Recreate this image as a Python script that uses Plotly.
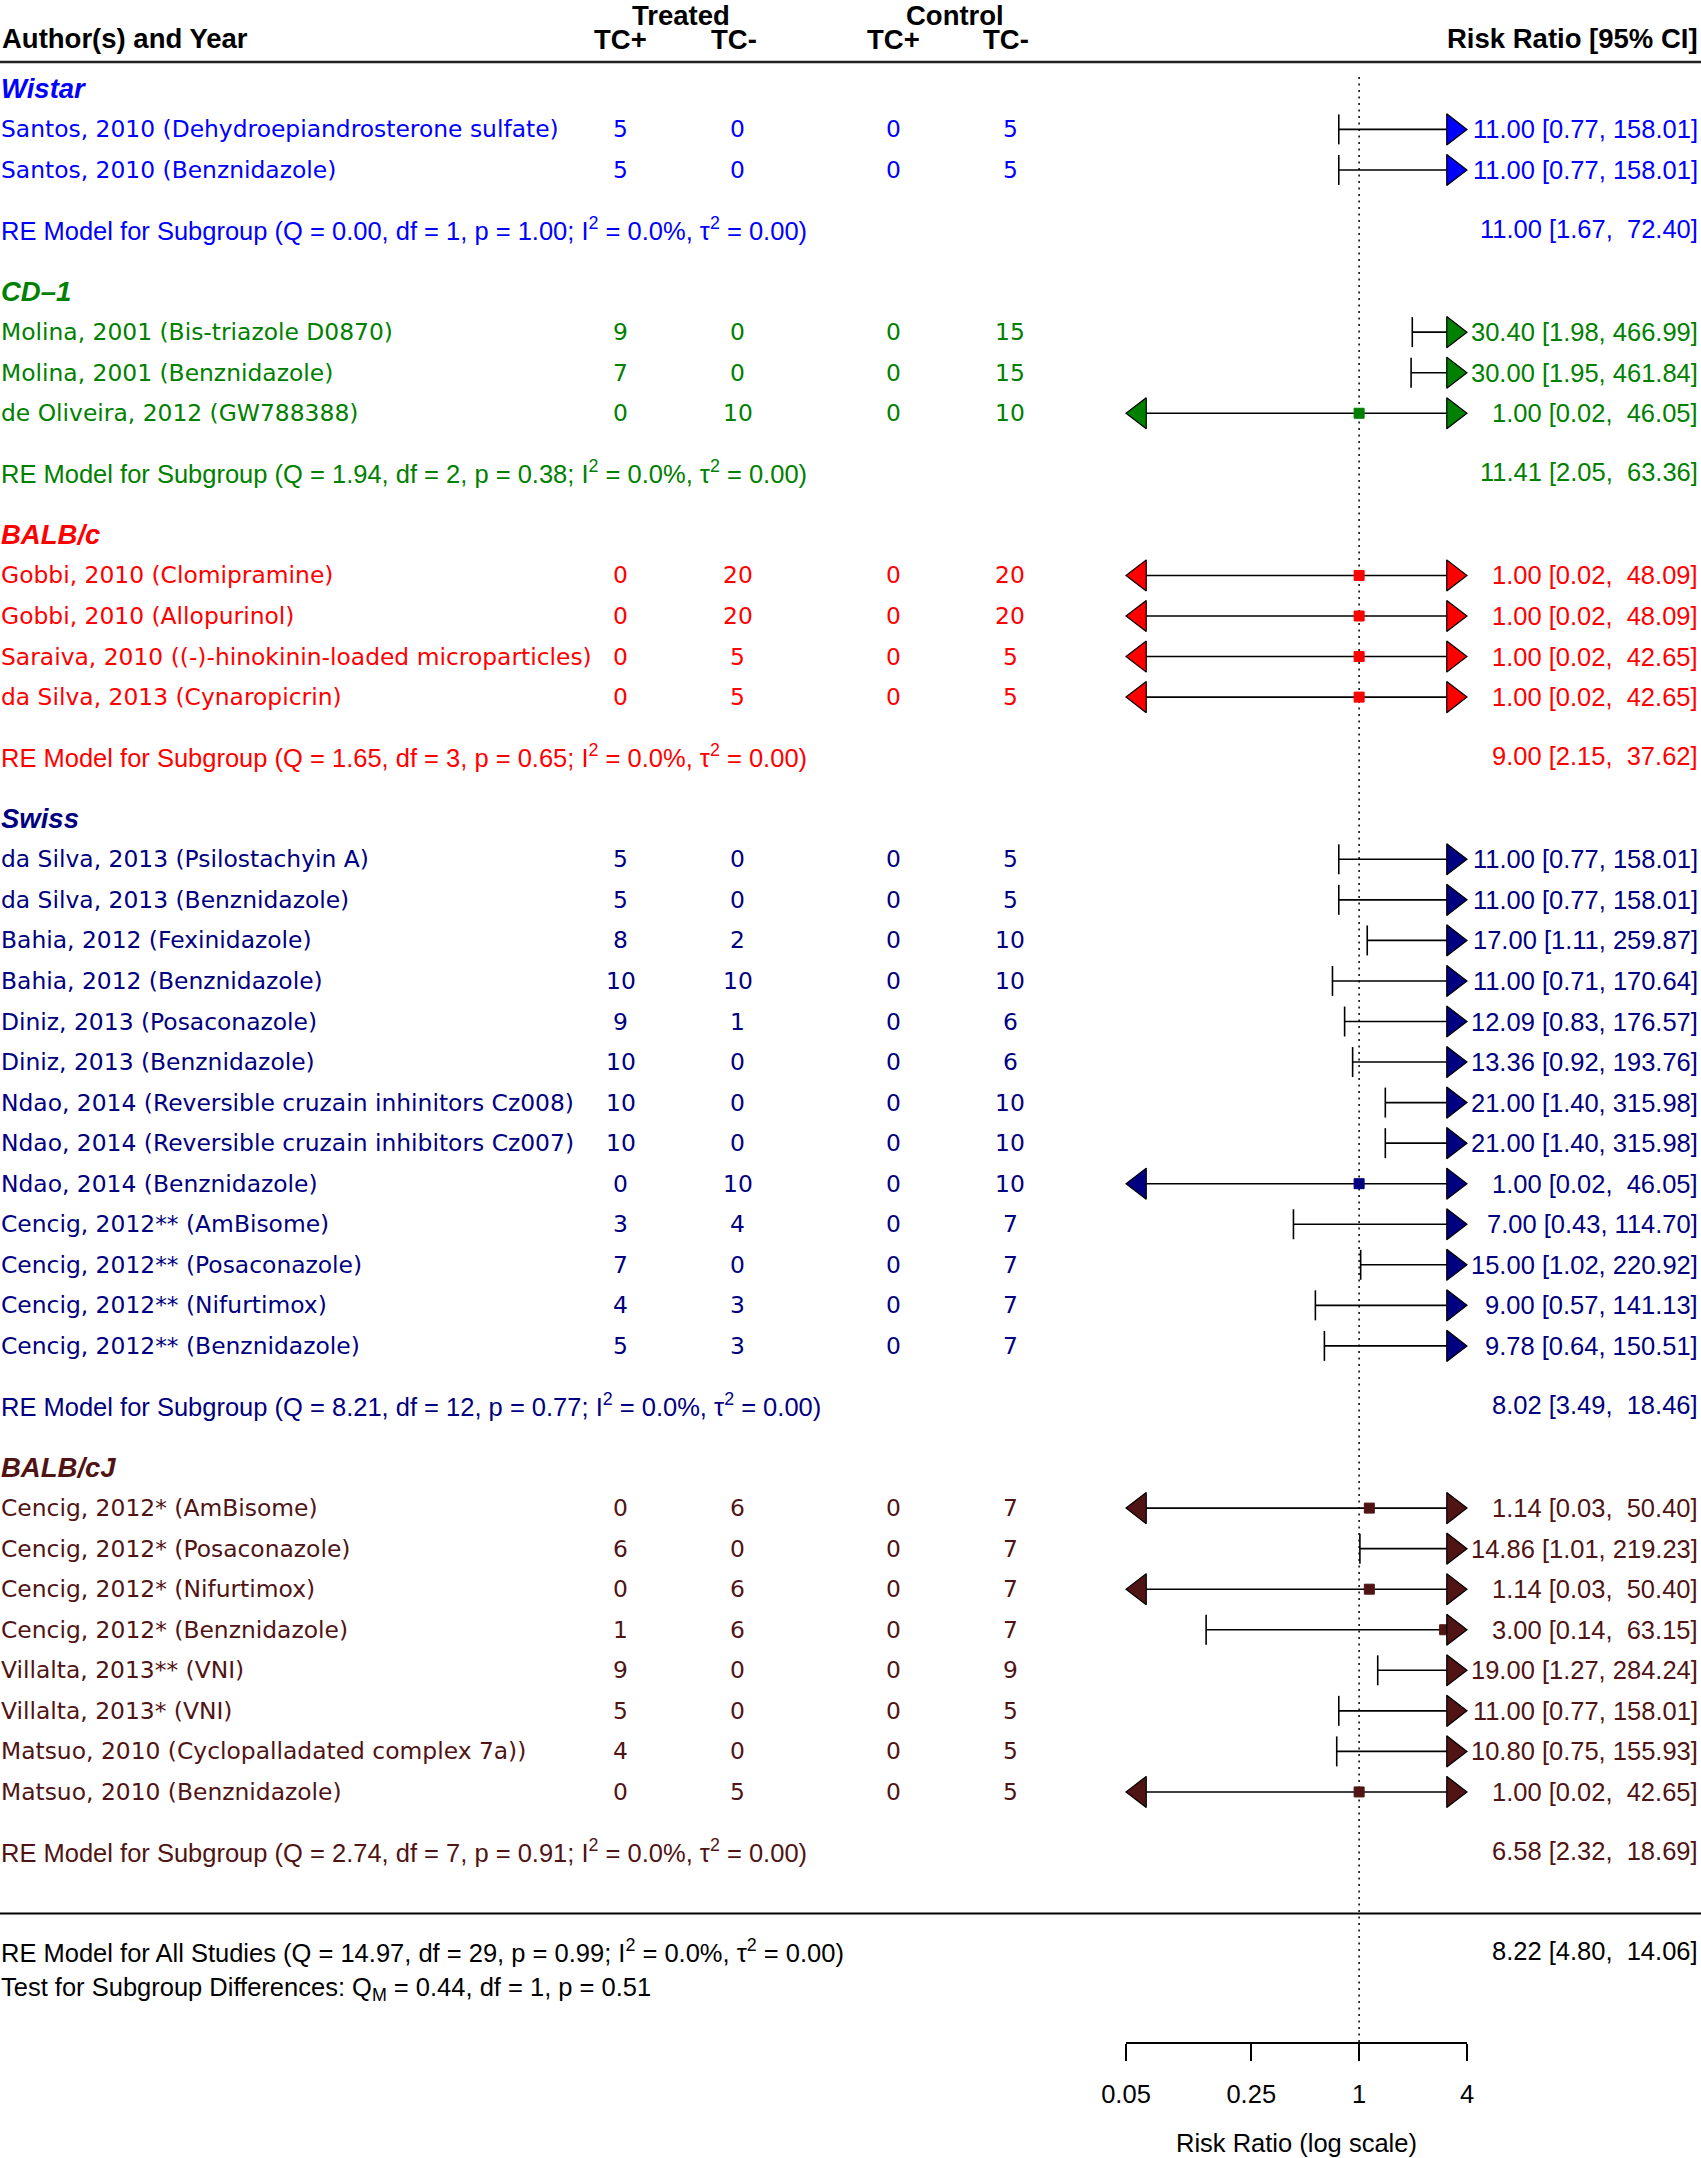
import numpy as np
import plotly.graph_objects as go

W, H = 1701, 2158

# ---------------- data ----------------
group_names = ["Wistar", "CD\u20131", "BALB/c", "Swiss", "BALB/cJ"]
group_colors = ["#0000FF", "#008000", "#FF0000", "#000080", "#501414"]

wistar_labels = ["Santos, 2010 (Dehydroepiandrosterone sulfate)", "Santos, 2010 (Benznidazole)"]
wistar_t_pos = [5, 5]
wistar_t_neg = [0, 0]
wistar_c_pos = [0, 0]
wistar_c_neg = [5, 5]
wistar_rr = [11.00, 11.00]
wistar_lo = [0.77, 0.77]
wistar_hi = [158.01, 158.01]

cd1_labels = ["Molina, 2001 (Bis-triazole D0870)", "Molina, 2001 (Benznidazole)", "de Oliveira, 2012 (GW788388)"]
cd1_t_pos = [9, 7, 0]
cd1_t_neg = [0, 0, 10]
cd1_c_pos = [0, 0, 0]
cd1_c_neg = [15, 15, 10]
cd1_rr = [30.40, 30.00, 1.00]
cd1_lo = [1.98, 1.95, 0.02]
cd1_hi = [466.99, 461.84, 46.05]

balbc_labels = ["Gobbi, 2010 (Clomipramine)", "Gobbi, 2010 (Allopurinol)",
                "Saraiva, 2010 ((-)-hinokinin-loaded microparticles)", "da Silva, 2013 (Cynaropicrin)"]
balbc_t_pos = [0, 0, 0, 0]
balbc_t_neg = [20, 20, 5, 5]
balbc_c_pos = [0, 0, 0, 0]
balbc_c_neg = [20, 20, 5, 5]
balbc_rr = [1.00, 1.00, 1.00, 1.00]
balbc_lo = [0.02, 0.02, 0.02, 0.02]
balbc_hi = [48.09, 48.09, 42.65, 42.65]

swiss_labels = ["da Silva, 2013 (Psilostachyin A)", "da Silva, 2013 (Benznidazole)",
                "Bahia, 2012 (Fexinidazole)", "Bahia, 2012 (Benznidazole)",
                "Diniz, 2013 (Posaconazole)", "Diniz, 2013 (Benznidazole)",
                "Ndao, 2014 (Reversible cruzain inhinitors Cz008)",
                "Ndao, 2014 (Reversible cruzain inhibitors Cz007)", "Ndao, 2014 (Benznidazole)",
                "Cencig, 2012** (AmBisome)", "Cencig, 2012** (Posaconazole)",
                "Cencig, 2012** (Nifurtimox)", "Cencig, 2012** (Benznidazole)"]
swiss_t_pos = [5, 5, 8, 10, 9, 10, 10, 10, 0, 3, 7, 4, 5]
swiss_t_neg = [0, 0, 2, 10, 1, 0, 0, 0, 10, 4, 0, 3, 3]
swiss_c_pos = [0, 0, 0, 0, 0, 0, 0, 0, 0, 0, 0, 0, 0]
swiss_c_neg = [5, 5, 10, 10, 6, 6, 10, 10, 10, 7, 7, 7, 7]
swiss_rr = [11.00, 11.00, 17.00, 11.00, 12.09, 13.36, 21.00, 21.00, 1.00, 7.00, 15.00, 9.00, 9.78]
swiss_lo = [0.77, 0.77, 1.11, 0.71, 0.83, 0.92, 1.40, 1.40, 0.02, 0.43, 1.02, 0.57, 0.64]
swiss_hi = [158.01, 158.01, 259.87, 170.64, 176.57, 193.76, 315.98, 315.98, 46.05, 114.70, 220.92, 141.13, 150.51]

balbcj_labels = ["Cencig, 2012* (AmBisome)", "Cencig, 2012* (Posaconazole)",
                 "Cencig, 2012* (Nifurtimox)", "Cencig, 2012* (Benznidazole)",
                 "Villalta, 2013** (VNI)", "Villalta, 2013* (VNI)",
                 "Matsuo, 2010 (Cyclopalladated complex 7a))", "Matsuo, 2010 (Benznidazole)"]
balbcj_t_pos = [0, 6, 0, 1, 9, 5, 4, 0]
balbcj_t_neg = [6, 0, 6, 6, 0, 0, 0, 5]
balbcj_c_pos = [0, 0, 0, 0, 0, 0, 0, 0]
balbcj_c_neg = [7, 7, 7, 7, 9, 5, 5, 5]
balbcj_rr = [1.14, 14.86, 1.14, 3.00, 19.00, 11.00, 10.80, 1.00]
balbcj_lo = [0.03, 1.01, 0.03, 0.14, 1.27, 0.77, 0.75, 0.02]
balbcj_hi = [50.40, 219.23, 50.40, 63.15, 284.24, 158.01, 155.93, 42.65]

# subgroup RE models
sub_Q = [0.00, 1.94, 1.65, 8.21, 2.74]
sub_df = [1, 2, 3, 12, 7]
sub_p = [1.00, 0.38, 0.65, 0.77, 0.91]
sub_rr = [11.00, 11.41, 9.00, 8.02, 6.58]
sub_lo = [1.67, 2.05, 2.15, 3.49, 2.32]
sub_hi = [72.40, 63.36, 37.62, 18.46, 18.69]

# overall
all_Q, all_df, all_p = 14.97, 29, 0.99
all_rr, all_lo, all_hi = 8.22, 4.80, 14.06
test_QM, test_df, test_p = 0.44, 1, 0.51

tick_vals = [0.05, 0.25, 1, 4]
tick_text = ["0.05", "0.25", "1", "4"]
x_min, x_max = 0.05, 4

groups = [
    (wistar_labels, wistar_t_pos, wistar_t_neg, wistar_c_pos, wistar_c_neg, wistar_rr, wistar_lo, wistar_hi),
    (cd1_labels, cd1_t_pos, cd1_t_neg, cd1_c_pos, cd1_c_neg, cd1_rr, cd1_lo, cd1_hi),
    (balbc_labels, balbc_t_pos, balbc_t_neg, balbc_c_pos, balbc_c_neg, balbc_rr, balbc_lo, balbc_hi),
    (swiss_labels, swiss_t_pos, swiss_t_neg, swiss_c_pos, swiss_c_neg, swiss_rr, swiss_lo, swiss_hi),
    (balbcj_labels, balbcj_t_pos, balbcj_t_neg, balbcj_c_pos, balbcj_c_neg, balbcj_rr, balbcj_lo, balbcj_hi),
]

# ---------------- layout constants ----------------
STEP = 40.55
FIRST = 129.4
SANS = "Liberation Sans, Arial, sans-serif"
VERD = "DejaVu Sans, Verdana, sans-serif"
LBL = 23.4
NUM = 25.5
BOLD = 27.5

X_LEFT_PX, X_RIGHT_PX = 1126.0, 1467.0
COL_TP, COL_TN, COL_CP, COL_CN = 620.6, 737.6, 893.0, 1010.0
RIGHT = 1699.0

px_per_dec = (X_RIGHT_PX - X_LEFT_PX) / (np.log10(x_max) - np.log10(x_min))
TRI = 27.0            # triangle marker size
tri_r = TRI / 2.0


def ci_text(rr, lo, hi):
    s = f"{rr:.2f} [{lo:.2f}, {hi:>6.2f}]"
    return s.replace(" ", "\u00a0")


annotations = []


def add_text(x, y, text, size, color="black", family=SANS, xanchor="left", xref="x", yref="y"):
    annotations.append(dict(x=x, y=y, xref=xref, yref=yref, text=text, showarrow=False,
                            xanchor=xanchor, yanchor="middle", borderpad=0,
                            font=dict(family=family, size=size, color=color)))


# row positions
cur = FIRST
rows = []
for gi, g in enumerate(groups):
    n = len(g[0])
    head_y = cur - STEP
    ys = [cur + i * STEP for i in range(n)]
    last = ys[-1]
    re_y = last + 1.45 * STEP
    rows.append((head_y, ys, re_y))
    cur = last + 4 * STEP

last_study = rows[-1][1][-1]
sep_y = last_study + 3 * STEP
all_y = last_study + 3.93 * STEP
test_y = last_study + 4.87 * STEP
axis_y = last_study + 6.17 * STEP

line_x, line_y = [], []
wh_x, wh_y = [], []
marker_traces = []
for gi, g in enumerate(groups):
    labels, tp, tn, cp, cn, rr, lo, hi = g
    col = group_colors[gi]
    head_y, ys, re_y = rows[gi]
    add_text(0, head_y, f"<b><i>{group_names[gi]}</i></b>", BOLD, col)
    rarr_x, rarr_y, larr_x, larr_y, sq_x, sq_y = [], [], [], [], [], []
    for i, lab in enumerate(labels):
        y = ys[i]
        add_text(0, y, lab, LBL, col, VERD)
        add_text(COL_TP, y, str(tp[i]), LBL, col, VERD, "center")
        add_text(COL_TN, y, str(tn[i]), LBL, col, VERD, "center")
        add_text(COL_CP, y, str(cp[i]), LBL, col, VERD, "center")
        add_text(COL_CN, y, str(cn[i]), LBL, col, VERD, "center")
        add_text(RIGHT, y, ci_text(rr[i], lo[i], hi[i]), NUM, col, SANS, "right")
        if lo[i] < x_min:
            left = x_min * 10 ** (tri_r / px_per_dec)
            larr_x.append(left); larr_y.append(y)
        else:
            left = lo[i]
            wh_x.append(lo[i]); wh_y.append(y)
        if hi[i] > x_max:
            right = x_max * 10 ** (-tri_r / px_per_dec)
            rarr_x.append(right); rarr_y.append(y)
        else:
            right = hi[i]
            wh_x.append(hi[i]); wh_y.append(y)
        line_x += [left, right, None]
        line_y += [y, y, None]
        if x_min <= rr[i] <= x_max:
            sq_x.append(rr[i]); sq_y.append(y)
    re_txt = (f"RE Model for Subgroup (Q = {sub_Q[gi]:.2f}, df = {sub_df[gi]}, p = {sub_p[gi]:.2f}; "
              f"I<sup>2</sup> = 0.0%, \u03c4<sup>2</sup> = 0.00)")
    add_text(0, re_y, re_txt, NUM, col)
    add_text(RIGHT, re_y, ci_text(sub_rr[gi], sub_lo[gi], sub_hi[gi]), NUM, col, SANS, "right")
    marker_traces.append(go.Scatter(x=sq_x, y=sq_y, xaxis="x2", yaxis="y", mode="markers",
                                    marker=dict(symbol="square", size=10, color=col, line=dict(color=col, width=1)),
                                    showlegend=False, hoverinfo="skip", cliponaxis=False))
    marker_traces.append(go.Scatter(x=rarr_x, y=rarr_y, xaxis="x2", yaxis="y", mode="markers",
                                    marker=dict(symbol="triangle-right", size=TRI, color=col,
                                                line=dict(color="black", width=1.2)),
                                    showlegend=False, hoverinfo="skip", cliponaxis=False))
    marker_traces.append(go.Scatter(x=larr_x, y=larr_y, xaxis="x2", yaxis="y", mode="markers",
                                    marker=dict(symbol="triangle-left", size=TRI, color=col,
                                                line=dict(color="black", width=1.2)),
                                    showlegend=False, hoverinfo="skip", cliponaxis=False))

fig = go.Figure()
# reference line
fig.add_trace(go.Scatter(x=[1, 1], y=[77, axis_y], xaxis="x2", yaxis="y", mode="lines",
                         line=dict(color="black", width=1.5, dash="2px,4.5px"),
                         hoverinfo="skip", showlegend=False, cliponaxis=False))
fig.add_trace(go.Scatter(x=line_x, y=line_y, xaxis="x2", yaxis="y", mode="lines",
                         line=dict(color="black", width=1.6), showlegend=False, hoverinfo="skip",
                         cliponaxis=False))
fig.add_trace(go.Scatter(x=wh_x, y=wh_y, xaxis="x2", yaxis="y", mode="markers",
                         marker=dict(symbol="line-ns", size=21.4, color="black",
                                     line=dict(color="black", width=1.6)),
                         showlegend=False, hoverinfo="skip", cliponaxis=False))
for tr in marker_traces:
    fig.add_trace(tr)

# header
add_text(1, 38, "<b>Author(s) and Year</b>", BOLD)
add_text(681, 15, "<b>Treated</b>", BOLD, xanchor="center")
add_text(955, 15, "<b>Control</b>", BOLD, xanchor="center")
add_text(COL_TP, 39, "<b>TC+</b>", BOLD, xanchor="center")
add_text(COL_TN - 4, 39, "<b>TC-</b>", BOLD, xanchor="center")
add_text(COL_CP, 39, "<b>TC+</b>", BOLD, xanchor="center")
add_text(COL_CN - 4, 39, "<b>TC-</b>", BOLD, xanchor="center")
add_text(RIGHT, 38, "<b>Risk Ratio [95% CI]</b>", BOLD, xanchor="right")

# overall
add_text(0, all_y, (f"RE Model for All Studies (Q = {all_Q:.2f}, df = {all_df}, p = {all_p:.2f}; "
                    f"I<sup>2</sup> = 0.0%, \u03c4<sup>2</sup> = 0.00)"), NUM)
add_text(RIGHT, all_y, ci_text(all_rr, all_lo, all_hi), NUM, xanchor="right")
add_text(0, test_y, f"Test for Subgroup Differences: Q<sub>M</sub> = {test_QM:.2f}, df = {test_df}, p = {test_p:.2f}", NUM)

# axis title
add_text((X_LEFT_PX + X_RIGHT_PX) / 2, 1 - 2143 / H, "Risk Ratio (log scale)", NUM,
         xanchor="center", yref="paper")

shapes = [
    dict(type="line", xref="x", yref="y", x0=0, x1=W, y0=62, y1=62, line=dict(color="#222222", width=2.5)),
    dict(type="line", xref="x", yref="y", x0=0, x1=W, y0=sep_y, y1=sep_y, line=dict(color="black", width=2)),
]

fig.update_layout(
    width=W, height=H,
    margin=dict(l=0, r=0, t=0, b=0, pad=0, autoexpand=False),
    paper_bgcolor="white", plot_bgcolor="white",
    showlegend=False,
    xaxis=dict(range=[0, W], domain=[0, 1], visible=False, fixedrange=True, automargin=False),
    xaxis2=dict(type="log", range=[np.log10(x_min), np.log10(x_max)],
                domain=[X_LEFT_PX / W, X_RIGHT_PX / W], anchor="y", automargin=False,
                showline=True, linecolor="black", linewidth=1.5, mirror=False,
                ticks="outside", ticklen=17, tickwidth=1.5, tickcolor="black",
                tickvals=tick_vals, ticktext=tick_text, ticklabelstandoff=12,
                tickfont=dict(family=SANS, size=NUM, color="black"),
                showgrid=False, zeroline=False),
    yaxis=dict(range=[axis_y, 0], domain=[1 - axis_y / H, 1], visible=False, fixedrange=True,
               automargin=False),
    annotations=annotations,
    shapes=shapes,
)

fig.write_html("out.html", config={"displayModeBar": False},
               post_script="document.body.style.margin='0';")
